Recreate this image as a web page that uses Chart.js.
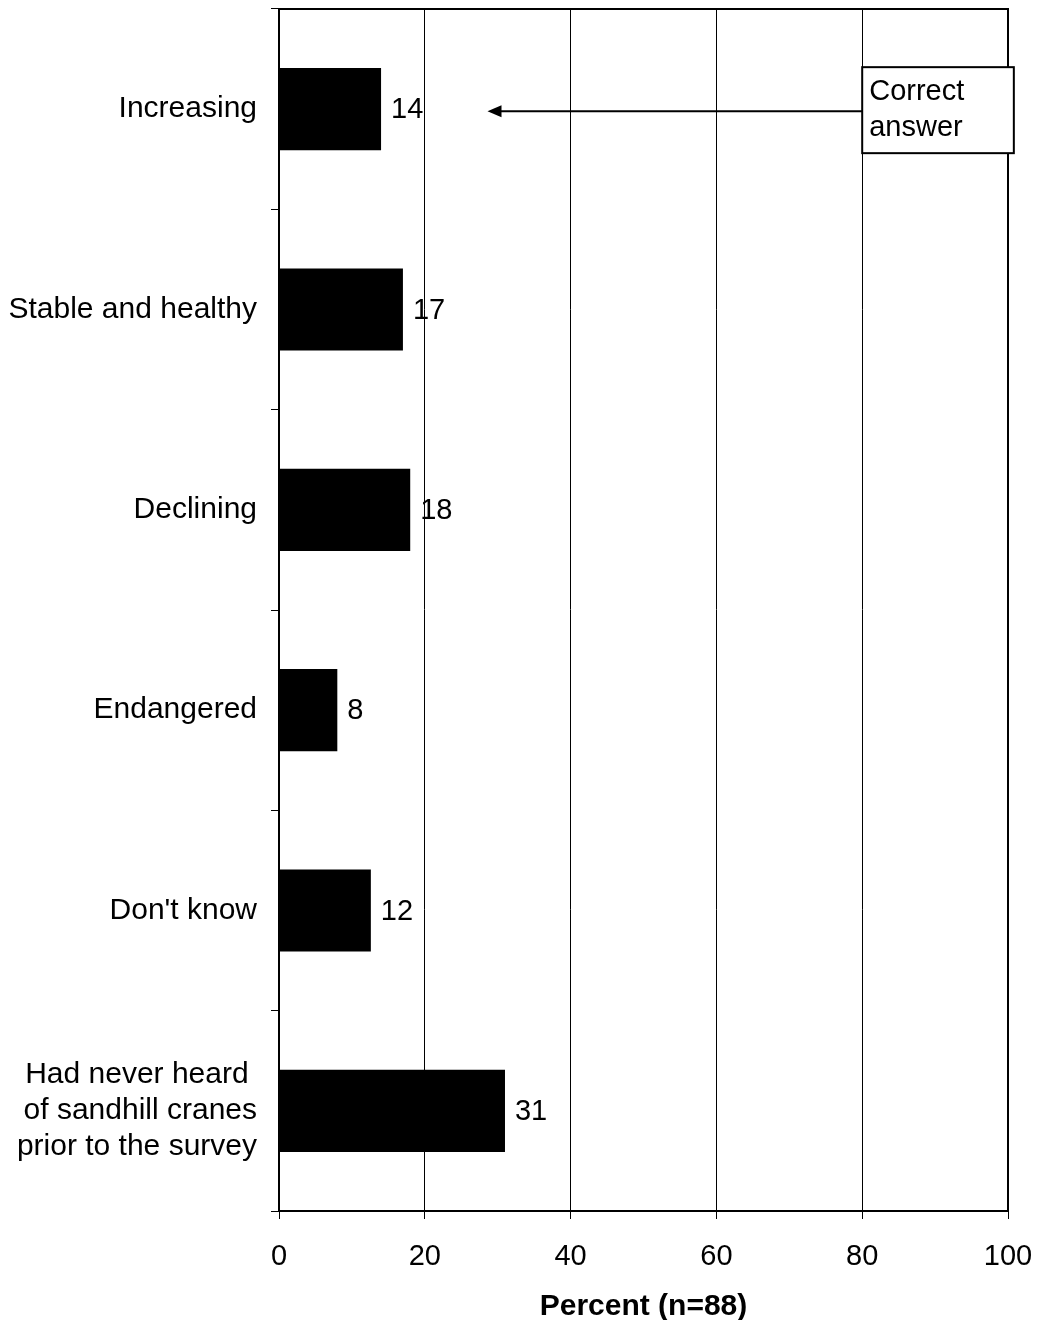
<!DOCTYPE html>
<html lang="en">
<head>
    <meta charset="UTF-8">
    <title>Sandhill crane population status</title>
    <script src="https://cdn.jsdelivr.net/npm/chart.js"></script>
    <style>
        html, body { margin: 0; padding: 0; background: #fff; }
        #wrap { width: 1038px; height: 1320px; position: relative; }
    </style>
</head>
<body>
    <div id="wrap"><canvas id="cranesChart"></canvas></div>

    <script>
        // answers to the question about sandhill crane population
        const categories = [
            'Increasing',
            'Stable and healthy',
            'Declining',
            'Endangered',
            "Don't know",
            ['Had never heard ', 'of sandhill cranes', 'prior to the survey']
        ];
        const percents = [14, 17, 18, 8, 12.6, 31];
        const valueLabels = ['14', '17', '18', '8', '12', '31'];
        const xTicks = [0, 20, 40, 60, 80, 100];
        const noteLines = ['Correct', 'answer'];

        const FONT = '"Liberation Sans", Arial, sans-serif';

        // value labels at bar ends + plot frame + arrow note
        const extras = {
            id: 'extras',
            afterDatasetsDraw(chart) {
                const ctx = chart.ctx;
                const meta = chart.getDatasetMeta(0);
                ctx.save();
                ctx.fillStyle = '#000';
                ctx.font = '29px ' + FONT;
                ctx.textAlign = 'left';
                ctx.textBaseline = 'middle';
                meta.data.forEach((bar, i) => {
                    ctx.fillText(valueLabels[i], bar.x + 10, bar.y + 1);
                });

                // top and right frame
                const a = chart.chartArea;
                ctx.strokeStyle = '#000';
                ctx.lineWidth = 2;
                ctx.beginPath();
                ctx.moveTo(a.left, a.top);
                ctx.lineTo(a.right, a.top);
                ctx.lineTo(a.right, a.bottom);
                ctx.stroke();

                // arrow pointing at the correct answer
                const x = chart.scales.x, y = chart.scales.y;
                const yc = y.getPixelForValue(0) + 2;
                const boxL = x.getPixelForValue(80);
                const boxR = x.getPixelForValue(100.8);
                const tip = x.getPixelForValue(28.6);
                ctx.lineWidth = 2;
                ctx.beginPath();
                ctx.moveTo(boxL, yc);
                ctx.lineTo(tip + 12, yc);
                ctx.stroke();
                ctx.beginPath();
                ctx.moveTo(tip, yc);
                ctx.lineTo(tip + 14, yc - 6);
                ctx.lineTo(tip + 14, yc + 6);
                ctx.closePath();
                ctx.fill();

                const boxT = yc - 44, boxH = 86;
                ctx.fillStyle = '#fff';
                ctx.fillRect(boxL, boxT, boxR - boxL, boxH);
                ctx.strokeRect(boxL, boxT, boxR - boxL, boxH);
                ctx.fillStyle = '#000';
                ctx.fillText(noteLines[0], boxL + 7, boxT + 25);
                ctx.fillText(noteLines[1], boxL + 7, boxT + 61);
                ctx.restore();
            }
        };

        const ctx1 = document.getElementById('cranesChart').getContext('2d');
        new Chart(ctx1, {
            type: 'bar',
            data: {
                labels: categories,
                datasets: [{
                    data: percents,
                    backgroundColor: '#000',
                    borderWidth: 0,
                    categoryPercentage: 1,
                    barPercentage: 0.41
                }]
            },
            options: {
                indexAxis: 'y',
                responsive: true,
                maintainAspectRatio: false,
                animation: false,
                layout: { padding: { top: 9, right: 30, left: 0, bottom: 0 } },
                plugins: {
                    legend: { display: false },
                    tooltip: { enabled: false }
                },
                scales: {
                    x: {
                        min: 0,
                        max: 100,
                        afterBuildTicks(scale) {
                            scale.ticks = xTicks.map(v => ({ value: v }));
                        },
                        afterFit(scale) {
                            scale.height = 109;
                            scale.paddingLeft = 0;
                            scale.paddingRight = 0;
                        },
                        grid: {
                            color: '#000',
                            lineWidth: 1,
                            tickLength: 8,
                            drawTicks: true
                        },
                        border: { color: '#000', width: 2 },
                        ticks: {
                            color: '#000',
                            font: { family: FONT, size: 29 },
                            padding: 21
                        },
                        title: {
                            display: true,
                            text: 'Percent (n=88)',
                            color: '#000',
                            font: { family: FONT, size: 30, weight: 'bold' },
                            padding: { top: 4, bottom: -5 }
                        }
                    },
                    y: {
                        afterFit(scale) {
                            scale.width = 279;
                            scale.paddingTop = 0;
                            scale.paddingBottom = 0;
                        },
                        grid: {
                            offset: true,
                            drawOnChartArea: false,
                            tickLength: 8,
                            color: '#000'
                        },
                        border: { color: '#000', width: 2 },
                        ticks: {
                            color: '#000',
                            font: { family: FONT, size: 30, lineHeight: 1.2 },
                            padding: 14
                        }
                    }
                }
            },
            plugins: [extras]
        });
    </script>
</body>
</html>
